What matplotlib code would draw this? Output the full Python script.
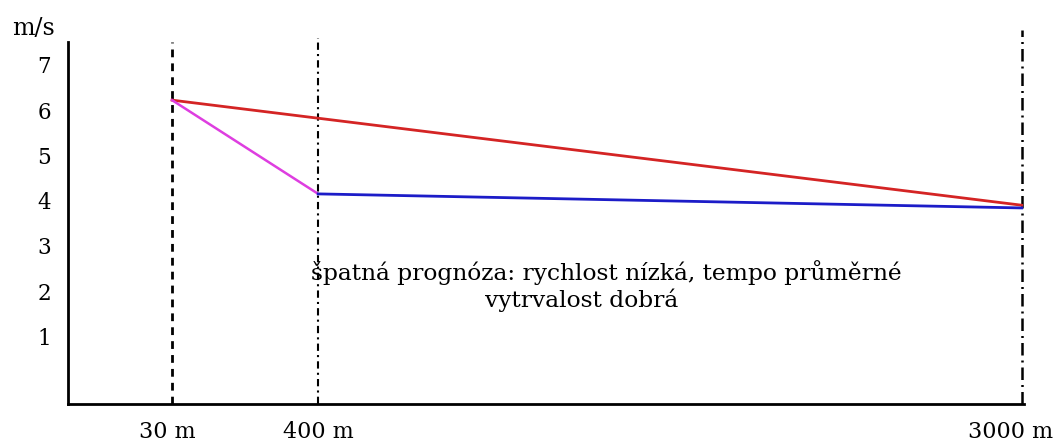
import matplotlib
matplotlib.use('Agg')
import matplotlib.pyplot as plt
import matplotlib.transforms as mtransforms
import numpy as np

# distances (m) and speeds (m/s)
dist_marks = [30, 400, 3000]
dist_labels = ['30 m', '400 m', '3000 m']

red_x = [30, 3000]
red_y = [6.22, 3.9]
magenta_x = [30, 400]
magenta_y = [6.22, 4.15]
blue_x = [400, 3000]
blue_y = [4.15, 3.84]

y_ticks = [1, 2, 3, 4, 5, 6, 7]

note_1 = 'špatná prognóza: rychlost nízká, tempo průměrné'
note_2 = 'vytrvalost dobrá'

# schematic (non-linear) distance axis
anchor_d = [0, 30, 400, 3000, 3100]
anchor_p = [0, 104, 250, 953, 992]

def fwd(x):
    return np.interp(x, anchor_d, anchor_p)

def inv(p):
    return np.interp(p, anchor_p, anchor_d)

plt.rcParams['font.family'] = ['DejaVu Serif']

fig = plt.figure(figsize=(10.59, 4.44), dpi=100)
ax = fig.add_axes([0.0642, 0.09, 0.9028, 0.815])
ax.set_xscale('function', functions=(fwd, inv))
ax.set_xlim(0, 3006)
ax.set_ylim(-0.49, 7.5)

for s in ['top', 'right']:
    ax.spines[s].set_visible(False)
ax.spines['left'].set_linewidth(2)
ax.spines['bottom'].set_linewidth(2)

ax.plot(red_x, red_y, color='#d42424', lw=2)
ax.plot(magenta_x, magenta_y, color='#de3ee0', lw=1.8)
ax.plot(blue_x, blue_y, color='#1c1cc8', lw=2)

ax.axvline(dist_marks[0], ymax=1.0, color='black', lw=2, ls=(0, (2.8, 2.2)), zorder=0)
ax.axvline(dist_marks[1], ymax=1.011, color='black', lw=1.5, ls=(0, (3.5, 2, 1, 2)), zorder=0, clip_on=False)
ax.axvline(dist_marks[2], ymax=1.033, color='black', lw=1.8, ls=(0, (5, 2, 0.8, 2)), zorder=0, clip_on=False)

ax.set_yticks(y_ticks)
ax.set_yticklabels([str(v) for v in y_ticks], fontsize=15.5)
ax.set_xticks(dist_marks)
ax.set_xticklabels(dist_labels, fontsize=16)
ax.tick_params(axis='both', length=0)
ax.tick_params(axis='y', pad=12)
ax.tick_params(axis='x', pad=12)

# nudge x labels like in the original
for lab, dx in zip(ax.get_xticklabels(), [-5, 0, -11]):
    lab.set_transform(lab.get_transform() + mtransforms.ScaledTranslation(dx / 100, 0, fig.dpi_scale_trans))

ax.text(-0.0586, 1.019, 'm/s', transform=ax.transAxes, fontsize=17, ha='left', va='baseline')

ax.text(383, 2.42, note_1, fontsize=16.8, ha='left', va='center')
ax.text(1018, 1.8, note_2, fontsize=16.8, ha='left', va='center')

fig.savefig('out.png', dpi=100)
